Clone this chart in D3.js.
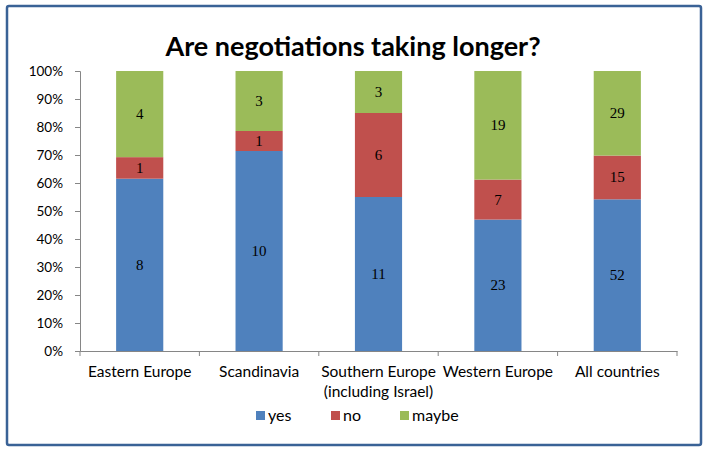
<!DOCTYPE html>
<html>
<head>
<meta charset="utf-8">
<script src="https://cdn.jsdelivr.net/npm/d3@7"></script>
<style>
  body { margin: 0; background: #fff; }
  svg { display: block; }
</style>
</head>
<body>
<svg id="canvas"></svg>
<script>
(function () {

    const width = 708;
    const height = 452;
    const margin = { top: 71, right: 31, bottom: 101, left: 80 };
    const labelFont = "Lato, 'Open Sans', sans-serif";

    const categories = ["Eastern Europe", "Scandinavia", "Southern Europe\n(including Israel)", "Western Europe", "All countries"];
    const seriesNames = ["yes", "no", "maybe"];
    const seriesColors = ["#4F81BD", "#C0504D", "#9BBB59"];
    const yes = [8, 10, 11, 23, 52];
    const no = [1, 1, 6, 7, 15];
    const maybe = [4, 3, 3, 19, 29];
    const yTicks = [0, 0.1, 0.2, 0.3, 0.4, 0.5, 0.6, 0.7, 0.8, 0.9, 1];

    const rows = categories.map((c, i) => ({ category: c, yes: yes[i], no: no[i], maybe: maybe[i] }));

    const stack = d3.stack().keys(seriesNames).offset(d3.stackOffsetExpand);
    const layers = stack(rows);

    const canvas = d3.select("#canvas")
        .attr("width", width)
        .attr("height", height);

    canvas.append("rect")
        .attr("x", 7)
        .attr("y", 6)
        .attr("width", 694)
        .attr("height", 439)
        .attr("rx", 2)
        .attr("fill", "#fff")
        .attr("stroke", "#3A6296")
        .attr("stroke-width", 2.5);

    const x = d3.scaleBand()
        .domain(categories)
        .range([margin.left, width - margin.right])
        .paddingInner(0.605)
        .paddingOuter(0.3025);

    const y = d3.scaleLinear()
        .domain([0, 1])
        .range([height - margin.bottom, margin.top]);

    canvas.append("text")
        .attr("x", 353)
        .attr("y", 56)
        .attr("text-anchor", "middle")
        .attr("font-family", labelFont)
        .attr("font-weight", "bold")
        .attr("font-size", 27)
        .attr("fill", "#000")
        .text("Are negotiations taking longer?");

    const layerG = canvas.selectAll("g.layer")
        .data(layers)
        .enter()
        .append("g")
        .attr("class", "layer")
        .attr("fill", (d, i) => seriesColors[i]);

    layerG.selectAll("rect")
        .data(d => d)
        .enter()
        .append("rect")
        .attr("x", d => x(d.data.category))
        .attr("y", d => y(d[1]))
        .attr("width", x.bandwidth())
        .attr("height", d => y(d[0]) - y(d[1]));

    layerG.selectAll("text")
        .data(d => d.map(v => ({ v, key: d.key })))
        .enter()
        .append("text")
        .attr("x", d => x(d.v.data.category) + x.bandwidth() / 2)
        .attr("y", d => (y(d.v[0]) + y(d.v[1])) / 2 + 5)
        .attr("text-anchor", "middle")
        .attr("font-family", "'Liberation Serif', serif")
        .attr("font-size", 15)
        .attr("fill", "#000")
        .text(d => d.v.data[d.key]);

    const yAxis = canvas.append("g")
        .attr("transform", `translate(${margin.left},0)`)
        .call(d3.axisLeft(y).tickValues(yTicks).tickFormat(d3.format(".0%")).tickSize(5).tickPadding(12));
    yAxis.select(".domain").attr("stroke", "#868686");
    yAxis.selectAll(".tick line").attr("stroke", "#868686");
    yAxis.selectAll(".tick text")
        .attr("font-family", labelFont)
        .attr("font-size", 13.5)
        .attr("fill", "#000");

    const xAxis = canvas.append("g")
        .attr("transform", `translate(0,${height - margin.bottom})`)
        .call(d3.axisBottom(x).tickSize(0).tickFormat(""));
    xAxis.select(".domain").attr("stroke", "#868686");
    xAxis.selectAll(".tick").remove();

    const step = x.step();
    const edges = d3.range(categories.length + 1).map(i => margin.left + i * step);
    xAxis.selectAll("line.sep")
        .data(edges)
        .enter()
        .append("line")
        .attr("class", "sep")
        .attr("x1", d => d)
        .attr("x2", d => d)
        .attr("y1", 0)
        .attr("y2", 5)
        .attr("stroke", "#868686");

    const catText = canvas.selectAll("text.cat")
        .data(categories)
        .enter()
        .append("text")
        .attr("class", "cat")
        .attr("x", d => x(d) + x.bandwidth() / 2)
        .attr("y", 377)
        .attr("text-anchor", "middle")
        .attr("font-family", labelFont)
        .attr("font-size", 15.5)
        .attr("fill", "#000");

    catText.selectAll("tspan")
        .data(d => d.split("\n"))
        .enter()
        .append("tspan")
        .attr("x", function () { return d3.select(this.parentNode).attr("x"); })
        .attr("dy", (d, i) => i === 0 ? 0 : 20)
        .text(d => d);

    const legendX = [256, 331, 400];
    const legend = canvas.selectAll("g.legend")
        .data(seriesNames)
        .enter()
        .append("g")
        .attr("class", "legend")
        .attr("transform", (d, i) => `translate(${legendX[i]},411)`);

    legend.append("rect")
        .attr("width", 9)
        .attr("height", 9)
        .attr("fill", (d, i) => seriesColors[i]);

    legend.append("text")
        .attr("x", 12)
        .attr("y", 10)
        .attr("font-family", labelFont)
        .attr("font-size", 16)
        .attr("fill", "#000")
        .text(d => d);

})();
</script>
</body>
</html>
